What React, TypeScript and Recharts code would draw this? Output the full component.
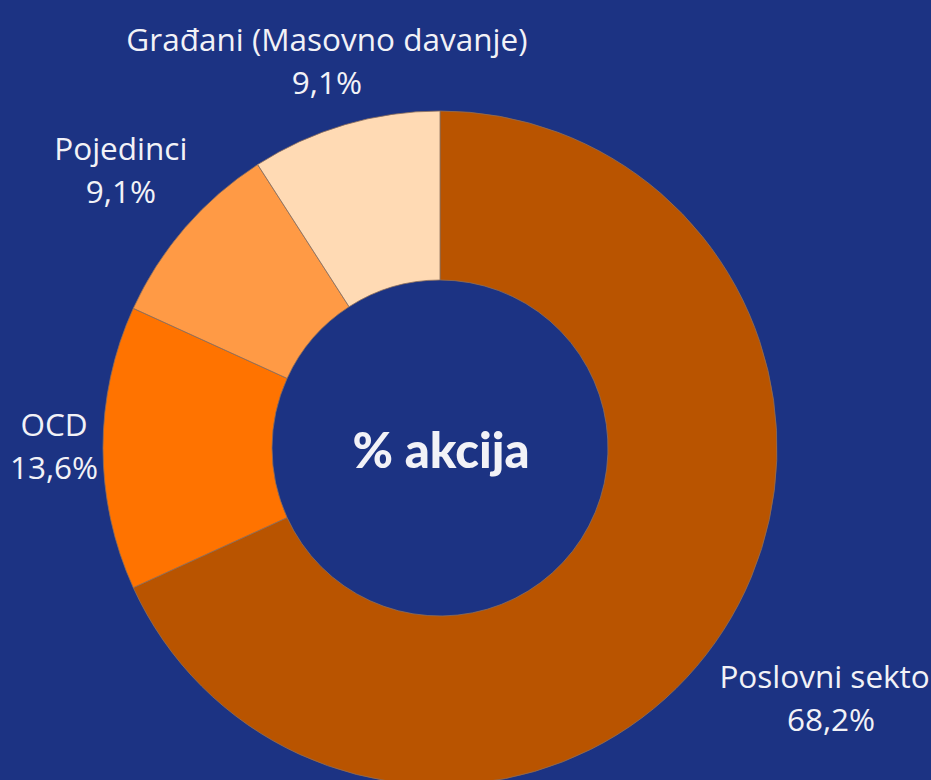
import { PieChart, Pie, Cell } from 'recharts';

const categories = ['Poslovni sektor', 'OCD', 'Pojedinci', 'Građani (Masovno davanje)'];
const shares = [68.2, 13.6, 9.1, 9.1];
const valueLabels = ['68,2%', '13,6%', '9,1%', '9,1%'];
const colors = ['#b95400', '#ff7300', '#ff9a45', '#ffdab4'];
// extra radial distance (px) of each label past the outer edge
const labelGap = [128, 49, 85, 64];

const BG = '#1c3383';
const TEXT = '#f2f2f7';
const RAD = Math.PI / 180;

const data = categories.map((name, i) => ({ name, value: shares[i], label: valueLabels[i] }));

function renderLabel(props: any) {
  const { cx, cy, midAngle, outerRadius, index } = props;
  const r = outerRadius + labelGap[index];
  const x = cx + r * Math.cos(-midAngle * RAD);
  const y = cy + r * Math.sin(-midAngle * RAD);
  return (
    <text
      x={x}
      y={y}
      textAnchor="middle"
      fill={TEXT}
      style={{ fontFamily: '"Open Sans", sans-serif', fontSize: 31.5 }}
    >
      <tspan x={x} dy={-12}>{categories[index]}</tspan>
      <tspan x={x} dy={43}>{data[index].label}</tspan>
    </text>
  );
}

export default function App() {
  return (
    <div style={{ position: 'fixed', left: 0, top: 0, width: 931, height: 780, background: BG, overflow: 'hidden' }}>
      <PieChart width={931} height={780} margin={{ top: 0, right: 0, bottom: 0, left: 0 }}>
        <Pie
          data={data}
          dataKey="value"
          nameKey="name"
          cx={440}
          cy={448}
          innerRadius={168}
          outerRadius={337}
          startAngle={90}
          endAngle={-270}
          stroke="#8c6e5c"
          strokeWidth={0.8}
          label={renderLabel}
          labelLine={false}
          isAnimationActive={false}
        >
          {data.map((d, i) => (
            <Cell key={d.name} fill={colors[i]} />
          ))}
        </Pie>
        <text
          x={441}
          y={468}
          textAnchor="middle"
          fill={TEXT}
          style={{ fontFamily: 'Lato, sans-serif', fontSize: 49, fontWeight: 900 }}
        >
          % akcija
        </text>
      </PieChart>
    </div>
  );
}
